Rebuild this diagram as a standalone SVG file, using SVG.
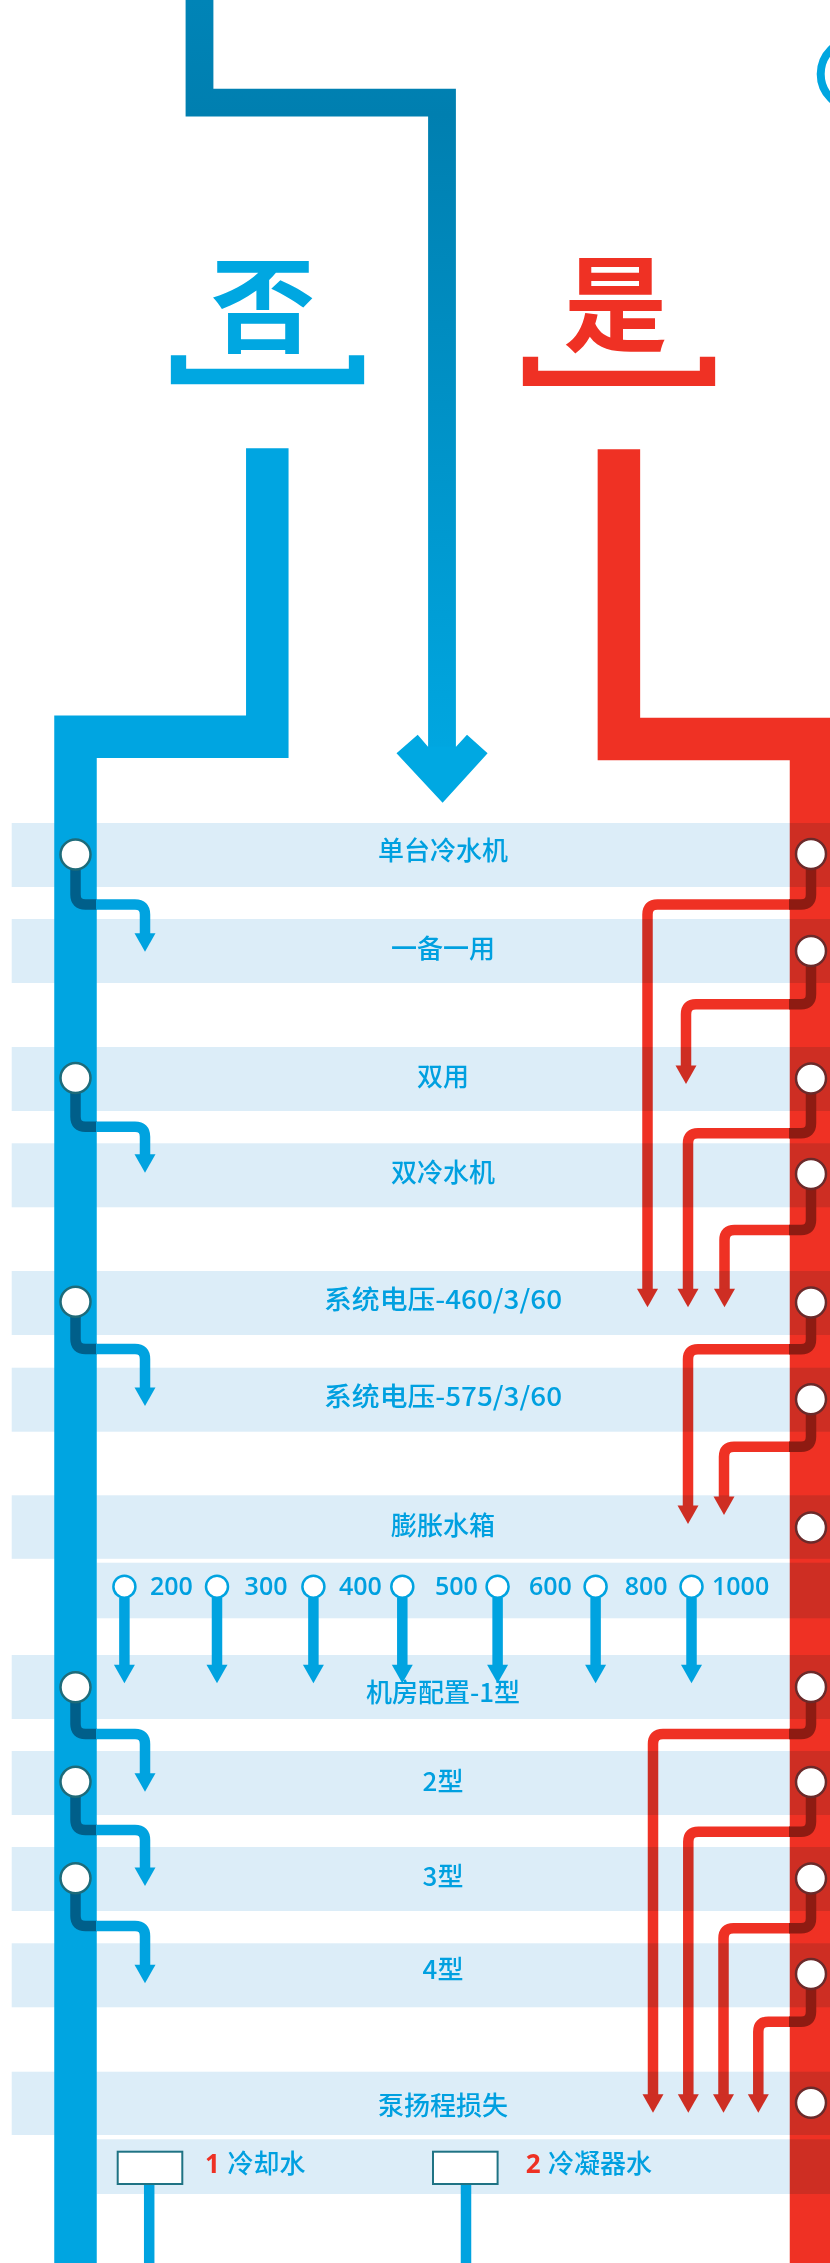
<svg xmlns="http://www.w3.org/2000/svg" width="830" height="2263" viewBox="0 0 830 2263">
<style>
.band{fill:#dcedf8;mix-blend-mode:multiply}
.bl{fill:none;stroke:#00a3e0;stroke-width:10.5}
.bd{fill:none;stroke:#005f8a;stroke-width:10.5}
.rl{fill:none;stroke:#ef3124;stroke-width:10.5}
.rd{fill:none;stroke:#8e1b12;stroke-width:10.5}
.ba{fill:#00a3e0}
.ra{fill:#ef3124}
.cl{fill:#fff;stroke:#1d6b7a;stroke-width:2.5}
.cr{fill:#fff;stroke:#6b2a2a;stroke-width:2.5}
.cn{fill:#fff;stroke:#00a3e0;stroke-width:2.5}
.lab{font-family:"Noto Sans CJK SC","Noto Sans",sans-serif;font-size:26px;font-weight:500;fill:#00a0e0;text-anchor:middle}
.num{font-family:"Open Sans","Noto Sans",sans-serif;font-size:25px;font-weight:600;fill:#00a0e0}
.sm{font-family:"Noto Sans CJK SC","Noto Sans",sans-serif;font-size:26px;font-weight:500;fill:#00a0e0}
.smr{font-family:"Open Sans","Noto Sans",sans-serif;font-size:26px;font-weight:700;fill:#ee3124}
.big{font-family:"Noto Sans CJK SC",sans-serif;font-size:104px;font-weight:700;text-anchor:middle}
</style>
<defs>
<linearGradient id="trunk" gradientUnits="userSpaceOnUse" x1="0" y1="0" x2="0" y2="760">
<stop offset="0" stop-color="#0084b7"/>
<stop offset="0.15" stop-color="#007fb0"/>
<stop offset="1" stop-color="#00a7e1"/>
</linearGradient>
</defs>
<rect width="830" height="2263" fill="#fff"/>

<g id="connectors-red">
<path d="M618.9,449.3 V739 H811 V2263" fill="none" stroke="#ef3124" stroke-width="42.5"/>
<path class="rl" d="M790,904.5 H657.5 Q647.5,904.5 647.5,914.5 V1290.5"/>
<polygon class="ra" points="637,1288.8 658,1288.8 647.5,1307.3"/>
<path class="rl" d="M790,1004.3 H696 Q686,1004.3 686,1014.3 V1067"/>
<polygon class="ra" points="675.5,1065.5 696.5,1065.5 686,1084"/>
<path class="rl" d="M790,1133.3 H698 Q688,1133.3 688,1143.3 V1290.5"/>
<polygon class="ra" points="677.5,1288.8 698.5,1288.8 688,1307.3"/>
<path class="rl" d="M790,1230 H734.5 Q724.5,1230 724.5,1240 V1290.5"/>
<polygon class="ra" points="714,1288.8 735,1288.8 724.5,1307.3"/>
<path class="rl" d="M790,1349.3 H698 Q688,1349.3 688,1359.3 V1507"/>
<polygon class="ra" points="677.5,1505.5 698.5,1505.5 688,1524"/>
<path class="rl" d="M790,1446.7 H734 Q724,1446.7 724,1456.7 V1498"/>
<polygon class="ra" points="713.5,1496.5 734.5,1496.5 724,1515"/>
<path class="rl" d="M790,1734 H663 Q653,1734 653,1744 V2096"/>
<polygon class="ra" points="642.5,2094.2 663.5,2094.2 653,2112.7"/>
<path class="rl" d="M790,1831.7 H698.3 Q688.3,1831.7 688.3,1841.7 V2096"/>
<polygon class="ra" points="677.8,2094.2 698.8,2094.2 688.3,2112.7"/>
<path class="rl" d="M790,1928.3 H733.5 Q723.5,1928.3 723.5,1938.3 V2096"/>
<polygon class="ra" points="713,2094.2 734,2094.2 723.5,2112.7"/>
<path class="rl" d="M790,2021.7 H768.3 Q758.3,2021.7 758.3,2031.7 V2096"/>
<polygon class="ra" points="747.8,2094.2 768.8,2094.2 758.3,2112.7"/>
</g>

<g id="bands">
<rect class="band" x="11.7" y="823" width="818.3" height="64"/>
<rect class="band" x="11.7" y="919" width="818.3" height="64"/>
<rect class="band" x="11.7" y="1047" width="818.3" height="64"/>
<rect class="band" x="11.7" y="1143.3" width="818.3" height="64"/>
<rect class="band" x="11.7" y="1271" width="818.3" height="64"/>
<rect class="band" x="11.7" y="1367.7" width="818.3" height="64"/>
<rect class="band" x="11.7" y="1495.3" width="818.3" height="63.5"/>
<rect class="band" x="96.7" y="1562.7" width="733.3" height="55.6"/>
<rect class="band" x="11.7" y="1655" width="818.3" height="64"/>
<rect class="band" x="11.7" y="1751" width="818.3" height="64"/>
<rect class="band" x="11.7" y="1847" width="818.3" height="64"/>
<rect class="band" x="11.7" y="1943.3" width="818.3" height="64"/>
<rect class="band" x="11.7" y="2071.7" width="818.3" height="63.3"/>
<rect class="band" x="96.7" y="2139.3" width="733.3" height="54.7"/>
</g>

<g id="connectors">
<path d="M199.5,0 V102.7 H442 V747.5" fill="none" stroke="url(#trunk)" stroke-width="27.8"/>
<polygon fill="#00a8e2" points="428,746.7 417.7,734.7 396.5,753.3 442.6,802.7 487.6,753.3 467,734.7 456,746.7"/>
<path d="M267.3,448.3 V736.7 H75.5 V2263" fill="none" stroke="#00a5e1" stroke-width="42.5"/>
<path class="bd" d="M75.5,869 V894.5 Q75.5,904.5 85.5,904.5 H97"/>
<path class="bl" d="M96,904.5 H135 Q145,904.5 145,914.5 V935"/>
<polygon class="ba" points="134.5,933.2 155.5,933.2 145,951.7"/>
<path class="bd" d="M75.5,1093 V1116.7 Q75.5,1126.7 85.5,1126.7 H97"/>
<path class="bl" d="M96,1126.7 H135 Q145,1126.7 145,1136.7 V1156"/>
<polygon class="ba" points="134.5,1154.2 155.5,1154.2 145,1172.7"/>
<path class="bd" d="M75.5,1316 V1339 Q75.5,1349 85.5,1349 H97"/>
<path class="bl" d="M96,1349 H135 Q145,1349 145,1359 V1389"/>
<polygon class="ba" points="134.5,1387.5 155.5,1387.5 145,1406"/>
<path class="bd" d="M75.5,1702 V1724 Q75.5,1734 85.5,1734 H97"/>
<path class="bl" d="M96,1734 H135 Q145,1734 145,1744 V1775"/>
<polygon class="ba" points="134.5,1773.2 155.5,1773.2 145,1791.7"/>
<path class="bd" d="M75.5,1796 V1820 Q75.5,1830 85.5,1830 H97"/>
<path class="bl" d="M96,1830 H135 Q145,1830 145,1840 V1869"/>
<polygon class="ba" points="134.5,1867.5 155.5,1867.5 145,1886"/>
<path class="bd" d="M75.5,1893 V1916 Q75.5,1926 85.5,1926 H97"/>
<path class="bl" d="M96,1926 H135 Q145,1926 145,1936 V1966"/>
<polygon class="ba" points="134.5,1964.8 155.5,1964.8 145,1983.3"/>
<path class="rd" d="M811,869 V894.5 Q811,904.5 801,904.5 H789"/>
<path class="rd" d="M811,966 V994.3 Q811,1004.3 801,1004.3 H789"/>
<path class="rd" d="M811,1093.5 V1123.3 Q811,1133.3 801,1133.3 H789"/>
<path class="rd" d="M811,1189 V1220 Q811,1230 801,1230 H789"/>
<path class="rd" d="M811,1317.5 V1339.3 Q811,1349.3 801,1349.3 H789"/>
<path class="rd" d="M811,1414.3 V1436.7 Q811,1446.7 801,1446.7 H789"/>
<path class="rd" d="M811,1702 V1724 Q811,1734 801,1734 H789"/>
<path class="rd" d="M811,1797 V1821.7 Q811,1831.7 801,1831.7 H789"/>
<path class="rd" d="M811,1893.5 V1918.3 Q811,1928.3 801,1928.3 H789"/>
<path class="rd" d="M811,1989 V2011.7 Q811,2021.7 801,2021.7 H789"/>
<g class="bl">
<path d="M124.4,1598 V1666"/><path d="M217,1598 V1666"/><path d="M313.4,1598 V1666"/><path d="M402.3,1598 V1666"/><path d="M497.6,1598 V1666"/><path d="M595.6,1598 V1666"/><path d="M691.5,1598 V1666"/>
<path d="M149.2,2184 V2263"/><path d="M466,2184 V2263"/>
</g>
<g class="ba">
<polygon points="113.9,1664.8 134.9,1664.8 124.4,1683.3"/>
<polygon points="206.5,1664.8 227.5,1664.8 217,1683.3"/>
<polygon points="302.9,1664.8 323.9,1664.8 313.4,1683.3"/>
<polygon points="391.8,1664.8 412.8,1664.8 402.3,1683.3"/>
<polygon points="487.1,1664.8 508.1,1664.8 497.6,1683.3"/>
<polygon points="585.1,1664.8 606.1,1664.8 595.6,1683.3"/>
<polygon points="681,1664.8 702,1664.8 691.5,1683.3"/>
</g>
</g>

<g id="decision-no">
<text class="big" x="263" y="345" fill="#00a7e1">否</text>
<path d="M178.5,355.3 V376.5 H356.5 V355.3" fill="none" stroke="#00a7e1" stroke-width="15.3"/>
</g>
<g id="decision-yes">
<text class="big" x="615.5" y="344" fill="#ef3124">是</text>
<path d="M530.5,356.7 V378.3 H707.5 V356.7" fill="none" stroke="#ef3124" stroke-width="15.3"/>
</g>
<g id="start-ring">
<circle cx="855" cy="74" r="34.3" fill="none" stroke="#00a6e0" stroke-width="8"/>
</g>

<g id="stops-left">
<circle class="cl" cx="75.5" cy="854.5" r="15"/>
<circle class="cl" cx="75.5" cy="1078" r="15"/>
<circle class="cl" cx="75.5" cy="1301.7" r="15"/>
<circle class="cl" cx="75.5" cy="1687.3" r="15"/>
<circle class="cl" cx="75.5" cy="1781.7" r="15"/>
<circle class="cl" cx="75.5" cy="1878.3" r="15"/>
</g>
<g id="stops-right">
<circle class="cr" cx="811" cy="854" r="15"/>
<circle class="cr" cx="811" cy="951" r="15"/>
<circle class="cr" cx="811" cy="1078.5" r="15"/>
<circle class="cr" cx="811" cy="1174" r="15"/>
<circle class="cr" cx="811" cy="1302.5" r="15"/>
<circle class="cr" cx="811" cy="1399.3" r="15"/>
<circle class="cr" cx="811" cy="1527.5" r="15"/>
<circle class="cr" cx="811" cy="1687" r="15"/>
<circle class="cr" cx="811" cy="1782" r="15"/>
<circle class="cr" cx="811" cy="1878.5" r="15"/>
<circle class="cr" cx="811" cy="1974" r="15"/>
<circle class="cr" cx="811" cy="2102.7" r="15"/>
</g>

<g id="label-single"><text class="lab" x="443" y="859.5">单台冷水机</text></g>
<g id="label-standby"><text class="lab" x="443" y="957.8">一备一用</text></g>
<g id="label-dual-use"><text class="lab" x="443" y="1086">双用</text></g>
<g id="label-dual"><text class="lab" x="443" y="1181.5">双冷水机</text></g>
<g id="label-460"><text class="lab" x="443" y="1309" textLength="238" lengthAdjust="spacingAndGlyphs">系统电压-460/3/60</text></g>
<g id="label-575"><text class="lab" x="443" y="1406" textLength="238" lengthAdjust="spacingAndGlyphs">系统电压-575/3/60</text></g>
<g id="label-tank"><text class="lab" x="443" y="1534.5">膨胀水箱</text></g>
<g id="tank-sizes">
<circle class="cn" cx="124.4" cy="1586.7" r="11"/>
<circle class="cn" cx="217" cy="1586.7" r="11"/>
<circle class="cn" cx="313.4" cy="1586.7" r="11"/>
<circle class="cn" cx="402.3" cy="1586.7" r="11"/>
<circle class="cn" cx="497.6" cy="1586.7" r="11"/>
<circle class="cn" cx="595.6" cy="1586.7" r="11"/>
<circle class="cn" cx="691.5" cy="1586.7" r="11"/>
<text class="num" x="150" y="1595">200</text>
<text class="num" x="244.6" y="1595">300</text>
<text class="num" x="339" y="1595">400</text>
<text class="num" x="435" y="1595">500</text>
<text class="num" x="529" y="1595">600</text>
<text class="num" x="624.7" y="1595">800</text>
<text class="num" x="712" y="1595">1000</text>
</g>
<g id="label-room1"><text class="lab" x="443" y="1701.5">机房配置-1型</text></g>
<g id="label-room2"><text class="lab" x="443" y="1790.5">2型</text></g>
<g id="label-room3"><text class="lab" x="443" y="1885.5">3型</text></g>
<g id="label-room4"><text class="lab" x="443" y="1978.5">4型</text></g>
<g id="label-pump"><text class="lab" x="443" y="2114.5">泵扬程损失</text></g>
<g id="legend-1">
<rect x="117.7" y="2151.7" width="64.6" height="32.3" fill="#fff" stroke="#1f7384" stroke-width="2"/>
<text class="smr" x="205" y="2172.5">1</text>
<text class="sm" x="227.6" y="2172.5">冷却水</text>
</g>
<g id="legend-2">
<rect x="433" y="2151.7" width="64.6" height="32.3" fill="#fff" stroke="#1f7384" stroke-width="2"/>
<text class="smr" x="525.7" y="2172.5">2</text>
<text class="sm" x="548" y="2172.5">冷凝器水</text>
</g>
</svg>
